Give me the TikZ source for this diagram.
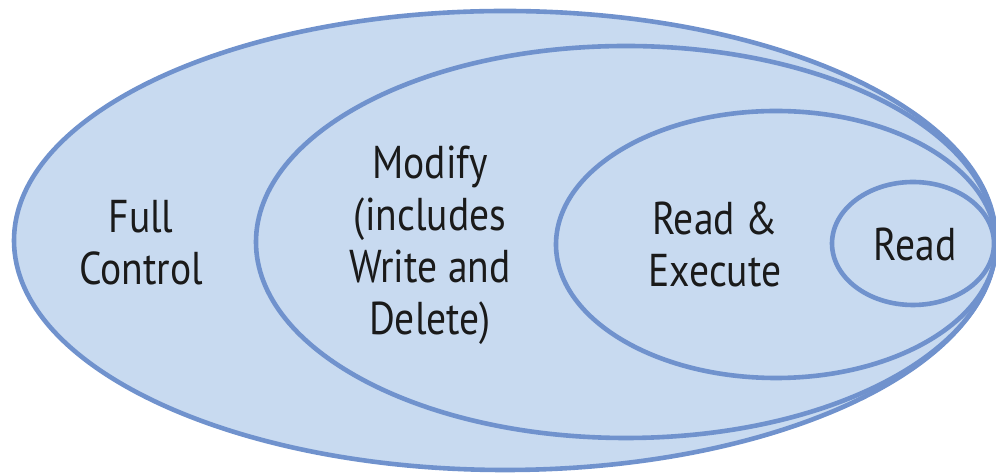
\documentclass[tikz,border=0pt]{standalone}
\usepackage{fontspec}
\setmainfont{PT Sans}[FakeStretch=0.86]
\usepackage{tikz}
\usetikzlibrary{positioning}
\definecolor{setfill}{RGB}{200,218,240}
\definecolor{setline}{RGB}{112,146,205}
\definecolor{settext}{RGB}{26,26,26}

\begin{document}
\begin{tikzpicture}[
        x=0.5pt,y=-0.5pt,
        set/.style={draw=setline,fill=setfill,line width=2.3pt},
        lbl/.style={align=center,font=\fontsize{23}{26}\selectfont,text=settext,inner sep=0pt}
      ]
      \useasboundingbox (0,0) rectangle (996,474);
      % nested permission sets, all touching on the right
      \path[set] (505,240.5) ellipse (491 and 229.5);
      \path[set] (626,242) ellipse (370 and 196);
      \path[set] (776,244.5) ellipse (220 and 133.5);
      \path[set] (913,243.5) ellipse (81 and 61.5);

      \node[lbl] (full) at (141,243) {Full\\Control};
      \node[lbl] (modify) at (430,245) {Modify\\(includes\\Write and\\Delete)};
      \node[lbl] (rx) at (715,244) {Read \&\\Execute};
      \node[lbl] (read) at (915,244) {Read};
    \end{tikzpicture}
\end{document}
